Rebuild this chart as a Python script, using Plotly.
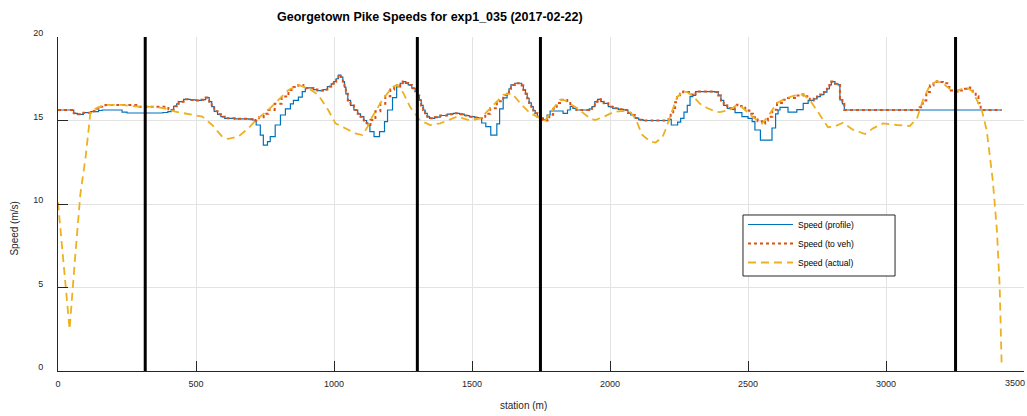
import plotly.graph_objects as go

# Station (m) / speed (m/s) samples along Georgetown Pike, run exp1_035

# Speed profile (step function)
station_profile = [0, 57, 70, 92, 118, 147, 160, 232, 250, 355, 380, 398, 410,
                   419, 430, 437, 455, 480, 500, 520, 535, 548, 557, 566, 578, 590, 604, 640, 690, 705, 715,
                   718, 733, 744, 759, 769, 787, 806, 824, 842, 853, 871, 885, 896,
                   900, 925, 940, 960, 976, 990, 999, 1008, 1016, 1025, 1032, 1038, 1043, 1050, 1060, 1072,
                   1086, 1096, 1108, 1118, 1124,
                   1130, 1145, 1165, 1183, 1194, 1212, 1227,
                   1233, 1240, 1249, 1260, 1269, 1282, 1294, 1302, 1309, 1316, 1323, 1330, 1338, 1346, 1365,
                   1385, 1410, 1432, 1455, 1472, 1490, 1510, 1525,
                   1535, 1550, 1568, 1590, 1600, 1613, 1627,
                   1634, 1641, 1655, 1670, 1680, 1686, 1694, 1700, 1707, 1715, 1722, 1729, 1737, 1747, 1757,
                   1765, 1772, 1783, 1830, 1846, 1856,
                   1866, 1878, 1925, 1935, 1945, 1955, 1967, 1977, 1994, 2010, 2030, 2050, 2065, 2075, 2090,
                   2104, 2120, 2205, 2212,
                   2222, 2245, 2256, 2268, 2280, 2290, 2300, 2310,
                   2380, 2392, 2402, 2412, 2425, 2440,
                   2453, 2478, 2500, 2515, 2525, 2545, 2587, 2600, 2609, 2616, 2645, 2677, 2700, 2718,
                   2738, 2750, 2762, 2775, 2786, 2795, 2802, 2815, 2826, 2833, 2842, 2849, 3419]
speed_profile = [15.63, 15.43, 15.37, 15.47, 15.53, 15.60, 15.63, 15.50, 15.45, 15.45, 15.48, 15.53, 15.65,
                 15.85, 16.00, 16.13, 16.27, 16.23, 16.20, 16.25, 16.37, 16.13, 15.83, 15.55, 15.37, 15.23, 15.13, 15.10, 15.08, 15.03, 14.99,
                 14.73, 14.13, 13.53, 13.73, 14.03, 14.73, 15.33, 15.70, 16.00, 16.20, 16.40, 16.73, 16.90,
                 16.95, 16.85, 16.79, 16.85, 17.03, 17.20, 17.33, 17.50, 17.72, 17.60, 17.33, 17.00, 16.60, 16.20, 15.90, 15.63,
                 15.40, 15.23, 15.00, 14.83, 14.73,
                 14.33, 14.03, 14.33, 14.93, 15.63, 16.37, 17.03,
                 17.03, 17.23, 17.33, 17.25, 17.13, 16.93, 16.75, 16.50, 16.23, 15.90, 15.63, 15.43, 15.23, 15.13, 15.20,
                 15.30, 15.38, 15.43, 15.38, 15.30, 15.23, 15.18, 15.13,
                 14.85, 14.63, 14.13, 14.80, 15.70, 16.35, 16.63,
                 16.90, 17.13, 17.23, 17.23, 17.10, 16.83, 16.60, 16.33, 16.05, 15.83, 15.60, 15.43, 15.23, 15.13, 15.05,
                 15.05, 15.33, 15.57, 15.43, 15.63, 15.85,
                 15.73, 15.63, 15.70, 15.83, 16.13, 16.27, 16.13, 16.03, 15.83, 15.73, 15.67, 15.63, 15.45, 15.33, 15.15,
                 15.05, 15.00, 15.00, 15.07,
                 14.73, 14.90, 15.13, 15.50, 15.90, 16.43, 16.50, 16.73,
                 16.70, 16.50, 16.20, 15.90, 15.73, 15.67,
                 15.47, 15.23, 15.13, 14.93, 14.43, 13.83, 14.55, 15.40, 15.63, 15.78, 15.50, 15.65, 16.03, 16.20,
                 16.30, 16.43, 16.55, 16.70, 16.90, 17.13, 17.33, 17.20, 17.13, 16.23, 16.00, 15.63, 15.63]

# Speed sent to the vehicle (step function)
station_to_veh = [0, 57, 70, 92, 118, 132, 147, 172, 232, 291, 353, 400,
                  410, 419, 430, 437, 455, 480, 500, 520, 535, 548, 557, 566, 578, 590, 604, 640, 690, 705, 715,
                  728, 745, 762, 785, 810, 835, 853, 871, 889,
                  900, 925, 940, 960, 976, 990, 999, 1008, 1016, 1025, 1032, 1038, 1043, 1050, 1060, 1072,
                  1086, 1096, 1108, 1118, 1124,
                  1132, 1150, 1168, 1186, 1204, 1218, 1229,
                  1233, 1240, 1249, 1260, 1269, 1282, 1294, 1302, 1309, 1316, 1323, 1330, 1338, 1346, 1365,
                  1385, 1410, 1432, 1455, 1472, 1490, 1510, 1525,
                  1530, 1548, 1566, 1590, 1613, 1627,
                  1634, 1641, 1655, 1670, 1680, 1686, 1694, 1700, 1707, 1715, 1722, 1729, 1737, 1747, 1757,
                  1765, 1780, 1794, 1807, 1819, 1833, 1845, 1856,
                  1866, 1878, 1925, 1935, 1945, 1955, 1967, 1977, 1994, 2010, 2030, 2050, 2065, 2075, 2090,
                  2104, 2120, 2205, 2212,
                  2220, 2229, 2236, 2243, 2254, 2265, 2279, 2290,
                  2300, 2310, 2380, 2392, 2402, 2412, 2425, 2440,
                  2452, 2460, 2475, 2490, 2505, 2518, 2535, 2551, 2562, 2572, 2588, 2605, 2623, 2641, 2670,
                  2699, 2712, 2724,
                  2738, 2750, 2762, 2775, 2786, 2795, 2802, 2815, 2826, 2833, 2842, 2849, 3115,
                  3122, 3133, 3146, 3159, 3172, 3184, 3195, 3206, 3222, 3235, 3245, 3260, 3275, 3293, 3305,
                  3314, 3325, 3335, 3343, 3347, 3419]
speed_to_veh = [15.63, 15.43, 15.37, 15.47, 15.55, 15.70, 15.82, 15.93, 15.93, 15.83, 15.82, 15.67,
                15.65, 15.85, 16.00, 16.13, 16.27, 16.23, 16.20, 16.25, 16.37, 16.13, 15.83, 15.55, 15.37, 15.23, 15.13, 15.10, 15.08, 15.03, 14.99,
                15.20, 15.40, 15.63, 16.00, 16.43, 16.83, 17.00, 17.13, 17.05,
                16.95, 16.85, 16.79, 16.85, 17.03, 17.20, 17.33, 17.50, 17.72, 17.60, 17.33, 17.00, 16.60, 16.20, 15.90, 15.63,
                15.40, 15.23, 15.00, 14.83, 14.73,
                15.03, 15.55, 16.00, 16.45, 16.85, 17.05, 17.13,
                17.03, 17.23, 17.33, 17.25, 17.13, 16.93, 16.75, 16.50, 16.23, 15.90, 15.63, 15.43, 15.23, 15.13, 15.20,
                15.30, 15.38, 15.43, 15.38, 15.30, 15.23, 15.18, 15.13,
                15.13, 15.40, 15.73, 16.15, 16.53, 16.63,
                16.90, 17.13, 17.23, 17.23, 17.10, 16.83, 16.60, 16.33, 16.05, 15.83, 15.60, 15.43, 15.23, 15.13, 15.05,
                15.00, 15.35, 15.70, 16.05, 16.25, 16.23, 16.05, 15.85,
                15.73, 15.63, 15.70, 15.83, 16.13, 16.27, 16.13, 16.03, 15.83, 15.73, 15.67, 15.63, 15.45, 15.33, 15.15,
                15.05, 15.00, 15.00, 15.07,
                15.35, 15.75, 16.10, 16.40, 16.60, 16.73, 16.70, 16.55,
                16.50, 16.73, 16.70, 16.50, 16.20, 15.90, 15.73, 15.67,
                15.80, 15.95, 15.85, 15.60, 15.40, 15.20, 14.95, 14.82, 15.00, 15.23, 15.65, 16.05, 16.25, 16.35, 16.50,
                16.57, 16.45, 16.20,
                16.30, 16.43, 16.55, 16.70, 16.90, 17.13, 17.33, 17.20, 17.13, 16.23, 16.00, 15.63, 15.63,
                15.80, 16.20, 16.70, 17.10, 17.30, 17.35, 17.30, 17.23, 17.00, 16.80, 16.73, 16.80, 16.90, 16.97, 16.88,
                16.73, 16.45, 16.05, 15.70, 15.63, 15.63]

# Measured vehicle speed
station_actual = [0, 20, 42, 62, 81, 100, 118, 147, 172, 232, 291, 353, 400, 425, 472, 523, 559, 595, 617,
                  653, 690, 715, 762, 835, 871, 907, 943, 979, 1005, 1041, 1077, 1103, 1121, 1132, 1175,
                  1211, 1229, 1251, 1276, 1312, 1349, 1385, 1414, 1446, 1494, 1530, 1566, 1613, 1645, 1675,
                  1711, 1747, 1765, 1794, 1819, 1837, 1881, 1928, 1945, 1975, 2012, 2047, 2073, 2084, 2098,
                  2116, 2145, 2165, 2190, 2200, 2218, 2229, 2243, 2265, 2279, 2301, 2326, 2352, 2380, 2398,
                  2435, 2460, 2475, 2500, 2518, 2551, 2572, 2605, 2641, 2670, 2699, 2724, 2761, 2790, 2815,
                  2844, 2880, 2924, 2953, 2989, 3039, 3086, 3112, 3133, 3159, 3184, 3206, 3242, 3268, 3293,
                  3314, 3347, 3365, 3376, 3387, 3402, 3412, 3419]
speed_actual = [10.10, 6.70, 2.50, 6.80, 10.60, 12.80, 15.55, 15.80, 15.93, 15.93, 15.83, 15.82, 15.67, 15.53, 15.39, 15.23, 14.73, 14.03, 13.90,
                14.03, 14.53, 14.99, 15.63, 16.83, 17.13, 16.93, 16.53, 15.63, 14.83, 14.53, 14.23, 14.13, 14.60, 15.03, 16.23,
                17.00, 17.13, 16.65, 15.80, 15.00, 14.73, 14.83, 15.00, 15.23, 15.00, 15.13, 15.73, 16.53, 16.63, 16.03,
                15.43, 15.13, 15.00, 15.70, 16.25, 16.20, 15.73, 15.13, 15.03, 15.20, 15.50, 15.58, 15.50, 15.30, 14.90,
                14.15, 13.75, 13.68, 14.00, 14.40, 15.30, 15.75, 16.40, 16.73, 16.70, 16.45, 16.00, 15.75, 15.55, 15.50,
                15.63, 15.95, 15.85, 15.50, 15.20, 14.82, 15.23, 16.05, 16.35, 16.50, 16.57, 16.23, 15.30, 14.60, 14.65,
                14.87, 14.45, 14.19, 14.53, 14.83, 14.73, 14.67, 15.10, 16.20, 17.10, 17.35, 17.23, 16.73, 16.85, 16.97,
                16.73, 15.63, 14.40, 12.90, 11.40, 8.40, 5.00, 0.40]

# Section boundaries along the route
section_breaks = [316, 1302, 1748, 3252]

x_ticks = [0, 500, 1000, 1500, 2000, 2500, 3000, 3500]
x_tick_text = ["0", "500", "1000", "1500", "2000", "2500", "3000", ""]
y_ticks = [0, 5, 10, 15, 20]

FONT = "Liberation Sans, Arial, Helvetica, sans-serif"
TXT = "#262626"

fig = go.Figure()
fig.add_trace(go.Scatter(x=station_profile, y=speed_profile, mode="lines", name="Speed (profile)",
                         line=dict(color="#0072BD", width=1.2, shape="hv")))
fig.add_trace(go.Scatter(x=station_to_veh, y=speed_to_veh, mode="lines", name="Speed (to veh)",
                         line=dict(color="#D95319", width=2, shape="hv", dash="dot")))
fig.add_trace(go.Scatter(x=station_actual, y=speed_actual, mode="lines", name="Speed (actual)",
                         line=dict(color="#EDB120", width=1.8, dash="8px,5px")))

for s in section_breaks:
    fig.add_shape(type="line", xref="x", yref="y", x0=s, x1=s, y0=0, y1=20,
                  line=dict(color="black", width=3), layer="above")

# legend frame
fig.add_shape(type="rect", xref="paper", yref="paper", x0=0.7091, x1=0.8665, y0=0.2844, y1=0.4671,
              line=dict(color=TXT, width=1), fillcolor="white", layer="above")

axis_common = dict(showgrid=True, gridcolor="#e3e3e3", gridwidth=1, zeroline=False,
                   showline=True, linecolor=TXT, linewidth=1, ticks="inside", ticklen=10,
                   tickcolor=TXT, tickwidth=1, tickfont=dict(family=FONT, size=9, color=TXT), mirror=False)

fig.update_layout(
    width=1027, height=416,
    margin=dict(l=58, r=3, t=37, b=45),
    paper_bgcolor="white", plot_bgcolor="white",
    xaxis=dict(range=[0, 3500], tickvals=x_ticks, ticktext=x_tick_text, ticklabelstandoff=4, **axis_common),
    yaxis=dict(range=[0, 20], tickvals=y_ticks, ticklabelstandoff=12, ticklabelshift=-4, **axis_common),
    showlegend=True,
    legend=dict(x=0.7091, y=0.482, xanchor="left", yanchor="top", bgcolor="rgba(0,0,0,0)",
                borderwidth=0, font=dict(family=FONT, size=8.5, color="black"), itemwidth=45),
    annotations=[
        dict(text="<b>Georgetown Pike Speeds for exp1_035 (2017-02-22)</b>", xref="paper", yref="paper",
             x=0.385, y=1.06, xanchor="center", yanchor="middle", showarrow=False,
             font=dict(family=FONT, size=12.5, color="black")),
        dict(text="station (m)", xref="paper", yref="paper", x=0.482, y=-0.1018, xanchor="center",
             yanchor="middle", showarrow=False, font=dict(family=FONT, size=10, color=TXT)),
        dict(text="Speed (m/s)", xref="paper", yref="paper", x=-0.045, y=0.425, xanchor="center",
             yanchor="middle", showarrow=False, textangle=-90, font=dict(family=FONT, size=10, color=TXT)),
        dict(text="3500", xref="paper", yref="paper", x=1.0031, y=-0.0359, xanchor="right",
             yanchor="middle", showarrow=False, font=dict(family=FONT, size=9, color=TXT)),
    ],
)

fig.write_html("out.html")
